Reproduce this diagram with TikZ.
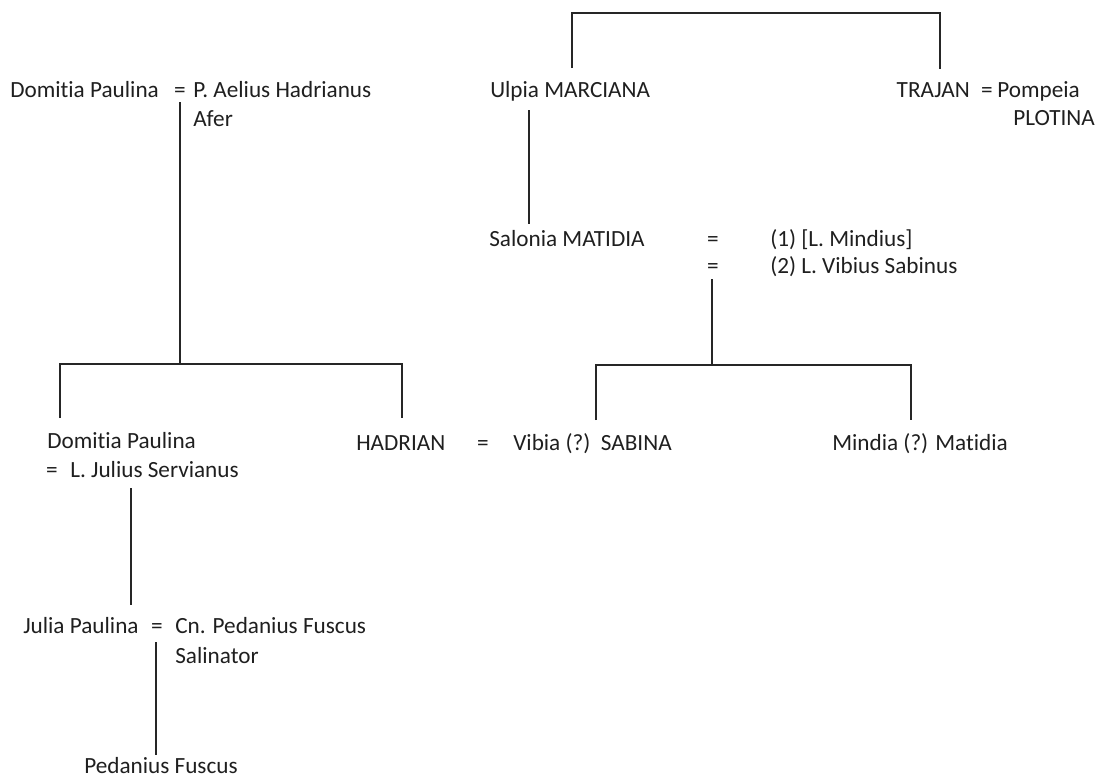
\documentclass[tikz,border=0pt]{standalone}
\usepackage{fontspec}
\setmainfont{Carlito}[Ligatures=NoCommon]
\tikzset{
  person/.style={anchor=base west, inner sep=0pt, text=black!88, font=\fontsize{16.5}{19}\selectfont},
  marry/.style={anchor=base, inner sep=0pt, text=black!88, font=\fontsize{16.5}{19}\selectfont},
  stem/.style={line width=0.9pt, color=black!85}
}
\begin{document}
\begin{tikzpicture}[x=0.025cm,y=-0.025cm]
                % \helpgrid{3}{3}
                \useasboundingbox (0,0) rectangle (1101,779);

                % first generation
                \node[person] (dpaulina) at (10,97) {Domitia Paulina};
                \node[marry] (eqafer) at (180,97) {=};
                \node[person] (aelius) at (193,97) {P. Aelius Hadrianus};
                \node[person] (afer) at (193,126) {Afer};
                \node[person] (marciana) at (490,97) {Ulpia MARCIANA};
                \node[person, anchor=base east] (trajan) at (970,97) {TRAJAN};
                \node[marry] (eqtrajan) at (987,97) {=};
                \node[person] (pompeia) at (997,97) {Pompeia};
                \node[person] (plotina) at (1013,125) {PLOTINA};

                % Matidia and her husbands
                \node[person] (matidia) at (489,246) {Salonia MATIDIA};
                \node[marry] (eqmindius) at (713,246) {=};
                \node[person] (mindius) at (770,246) {(1) [L. Mindius]};
                \node[marry] (eqsabinus) at (713,273) {=};
                \node[person] (sabinus) at (770,273) {(2) L. Vibius Sabinus};

                % next generation
                \node[person] (dpaulinab) at (47,448) {Domitia Paulina};
                \node[marry] (eqservianus) at (52,477) {=};
                \node[person] (servianus) at (70,477) {L. Julius Servianus};
                \node[person] (hadrian) at (356,450) {HADRIAN};
                \node[marry] (eqsabina) at (483,450) {=};
                \node[person] (sabina) at (513,450) {Vibia (?)~~SABINA};
                \node[person] (mindia) at (832,450) {Mindia (?) Matidia};

                \node[person] (julia) at (23,633) {Julia Paulina};
                \node[marry] (eqfuscus) at (157,633) {=};
                \node[person] (fuscus) at (175,633) {Cn. Pedanius Fuscus};
                \node[person] (salinator) at (175,663) {Salinator};
                \node[person] (pedanius) at (84,773) {Pedanius Fuscus};

                % line ends
                \coordinate (marcianaleg) at (572,68);
                \coordinate (trajanleg) at (940,69);
                \coordinate (topbar) at (756,13);
                \coordinate (aferdrop) at (180,102);
                \coordinate (aferbar) at (180,364);
                \coordinate (dpaulinaleg) at (60,418);
                \coordinate (hadrianleg) at (402,418);
                \coordinate (marcianadrop) at (529,110);
                \coordinate (matidiatop) at (529,224);
                \coordinate (sabinusdrop) at (712,279);
                \coordinate (sabinusbar) at (712,365);
                \coordinate (sabinaleg) at (596,420);
                \coordinate (mindialeg) at (911,420);
                \coordinate (servianusdrop) at (131,488);
                \coordinate (juliatop) at (131,605);
                \coordinate (fuscusdrop) at (156,642);
                \coordinate (pedaniustop) at (156,755);

                \draw[stem] (marcianaleg) |- (topbar) -| (trajanleg);
                \draw[stem] (aferdrop)--(aferbar);
                \draw[stem] (dpaulinaleg) |- (aferbar) -| (hadrianleg);
                \draw[stem] (marcianadrop)--(matidiatop);
                \draw[stem] (sabinusdrop)--(sabinusbar);
                \draw[stem] (sabinaleg) |- (sabinusbar) -| (mindialeg);
                \draw[stem] (servianusdrop)--(juliatop);
                \draw[stem] (fuscusdrop)--(pedaniustop);
\end{tikzpicture}
\end{document}
